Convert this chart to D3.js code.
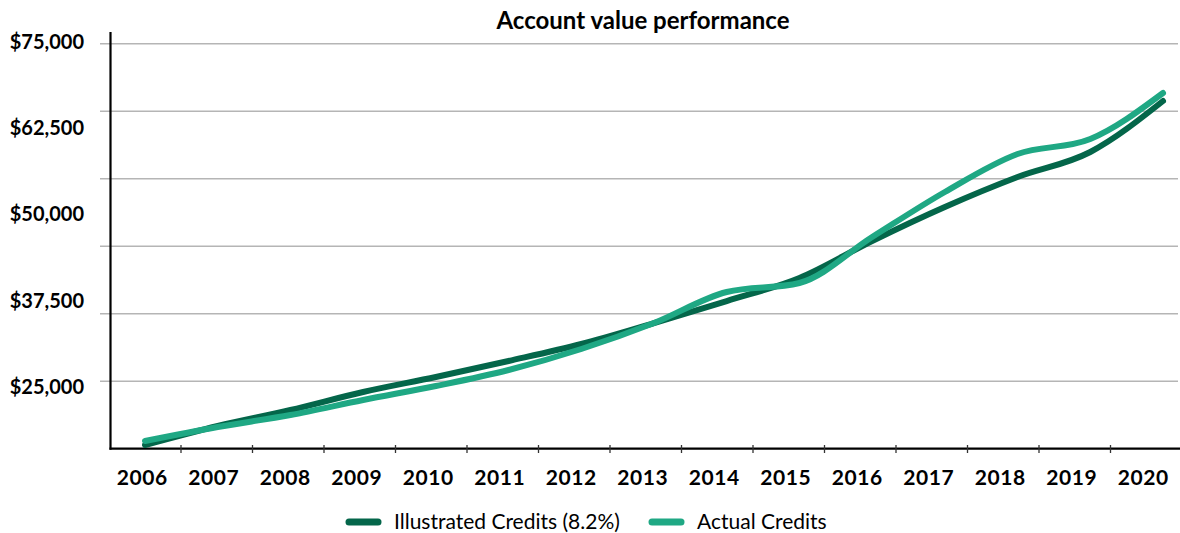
<!DOCTYPE html>
<html><head><meta charset="utf-8">
<script src="https://cdn.jsdelivr.net/npm/d3@7"></script>
<style>
body{margin:0;background:#fff}
text{font-family:Lato,"Open Sans",sans-serif;fill:#000}
</style>
</head><body>
<svg id="c" width="1180" height="533"></svg>
<script>
const years = [2006,2007,2008,2009,2010,2011,2012,2013,2014,2015,2016,2017,2018,2019,2020];
const illustrated = [15550,18360,20730,23400,25620,27990,30510,33620,36880,40290,45770,50810,55250,58960,66510];
const actual = [16140,18215,19990,22215,24290,26660,29770,33620,38215,39550,46360,53030,58660,60880,67700];
const yLabelValues = [25000,37500,50000,62500,75000];
const gridValues = [25000,35000,45000,55000,65000,75000];
const seriesNames = ["Illustrated Credits (8.2%)","Actual Credits"];
const seriesColors = ["#04664a","#1fa884"];
const title = "Account value performance";

const svg = d3.select("#c");
const y = d3.scaleLinear().domain([15000,75000]).range([448.7,43.7]);
const yLabel = d3.scaleLinear().domain([25000,75000]).range([387,42]);
const xBand = d3.scaleBand().domain(years).range([109.5,1182]).padding(0);
const xLine = d3.scalePoint().domain(years).range([145,1163]);

// title
svg.append("text").attr("x",643).attr("y",29).attr("text-anchor","middle")
  .style("font-weight","700").style("font-size","24px").text(title);

// gridlines
svg.append("g").selectAll("line").data(gridValues).join("line")
  .attr("x1",100).attr("x2",1178)
  .attr("y1",d=>y(d)).attr("y2",d=>y(d))
  .attr("stroke","#b5b5b5").attr("stroke-width",1.5);

// y labels
const yAx = svg.append("g").attr("transform","translate(84,0)")
  .call(d3.axisLeft(yLabel).tickValues(yLabelValues).tickSize(0).tickPadding(0)
    .tickFormat(d=>"$"+d3.format(",")(d)));
yAx.select(".domain").remove();
yAx.selectAll("text").style("font-size","20px").style("font-weight","700").attr("fill","#000");

// y axis line
svg.append("line").attr("x1",110.5).attr("x2",110.5).attr("y1",32).attr("y2",449.7)
  .attr("stroke","#000").attr("stroke-width",2.2);

// x axis line
svg.append("line").attr("x1",109.5).attr("x2",1180).attr("y1",448.7).attr("y2",448.7)
  .attr("stroke","#000").attr("stroke-width",2.2);

// x ticks at band boundaries
svg.append("g").selectAll("line").data(years.slice(1)).join("line")
  .attr("x1",d=>xBand(d)).attr("x2",d=>xBand(d)).attr("y1",445).attr("y2",453)
  .attr("stroke","#333").attr("stroke-width",1.3);

// x labels
svg.append("g").selectAll("text").data(years).join("text")
  .attr("x",d=>xBand(d)+xBand.bandwidth()/2-3).attr("y",485)
  .attr("text-anchor","middle").style("font-size","21px").style("font-weight","700")
  .style("letter-spacing","0.6px")
  .text(d=>d);

// lines
const line = d3.line().x((d,i)=>xLine(years[i])).y(d=>y(d)).curve(d3.curveMonotoneX);
[illustrated, actual].forEach((s,i)=>{
  svg.append("path").datum(s).attr("d",line).attr("fill","none")
    .attr("stroke",seriesColors[i]).attr("stroke-width",6)
    .attr("stroke-linecap","round").attr("stroke-linejoin","round");
});

// legend
const legendX = [349,652];
seriesNames.forEach((n,i)=>{
  svg.append("line").attr("x1",legendX[i]).attr("x2",legendX[i]+29)
    .attr("y1",522).attr("y2",522).attr("stroke",seriesColors[i])
    .attr("stroke-width",7).attr("stroke-linecap","round");
  svg.append("text").attr("x",legendX[i]+45).attr("y",529)
    .style("font-size","21px").text(n);
});
</script>
</body></html>
